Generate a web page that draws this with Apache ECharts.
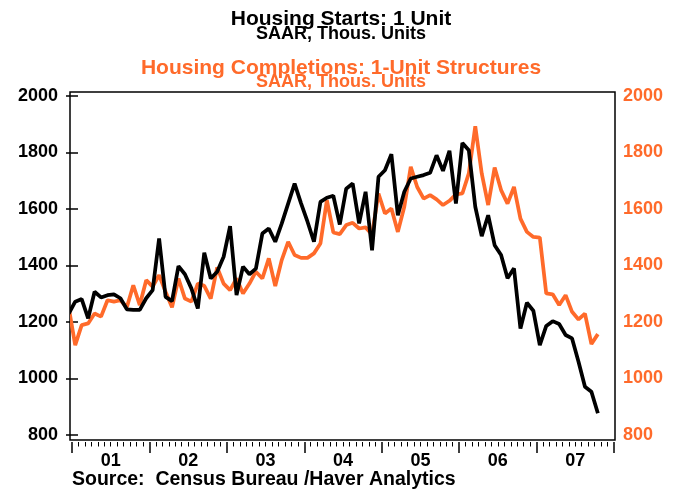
<!DOCTYPE html>
<html>
<head>
<meta charset="utf-8">
<script src="https://cdn.jsdelivr.net/npm/echarts/dist/echarts.min.js"></script>
<style>
html, body { margin: 0; padding: 0; background: #fff; }
#chart { width: 682px; height: 491px; }
</style>
</head>
<body>
<div id="chart"></div>
<script>
// months are counted from Jan 2001 (= 0); the series begin with Dec 2000
var firstMonth = -1;
var yearLabels = ['01', '02', '03', '04', '05', '06', '07'];

// Housing Starts: 1 Unit, SAAR, thous. units (Dec 2000 .. Oct 2007)
var starts = [
  1230,
  1272, 1281, 1213, 1307, 1287, 1295, 1298, 1284, 1245, 1243, 1243, 1284,
  1313, 1496, 1289, 1274, 1398, 1369, 1319, 1248, 1445, 1354, 1378, 1431,
  1539, 1295, 1396, 1369, 1389, 1513, 1531, 1484, 1548, 1619, 1690, 1620,
  1555, 1484, 1625, 1640, 1647, 1545, 1672, 1690, 1549, 1661, 1454, 1714,
  1737, 1794, 1578, 1661, 1708, 1714, 1720, 1728, 1790, 1735, 1806, 1619,
  1834, 1808, 1608, 1504, 1578, 1472, 1437, 1355, 1390, 1177, 1268, 1240,
  1118, 1186, 1203, 1193, 1154, 1142, 1059, 971, 953, 877
];

// Housing Completions: 1-Unit Structures, SAAR, thous. units (Dec 2000 .. Oct 2007)
var completions = [
  1250,
  1118, 1189, 1195, 1230, 1219, 1277, 1272, 1277, 1252, 1330, 1260, 1348,
  1325, 1366, 1307, 1252, 1354, 1283, 1272, 1336, 1328, 1283, 1393, 1336,
  1313, 1354, 1301, 1336, 1378, 1354, 1425, 1327, 1419, 1484, 1437, 1427,
  1427, 1443, 1478, 1631, 1517, 1511, 1543, 1551, 1531, 1535, 1510, 1655,
  1584, 1602, 1519, 1608, 1749, 1678, 1637, 1649, 1634, 1614, 1629, 1652,
  1655, 1726, 1893, 1726, 1614, 1747, 1667, 1619, 1678, 1566, 1519, 1501,
  1499, 1301, 1298, 1260, 1295, 1236, 1209, 1230, 1122, 1157
];

var orange = '#ff6a2a';

// plot each month at its middle
function toPoints(values) {
  return values.map(function (v, k) {
    return [firstMonth + k + 0.5, v];
  });
}

var labelFont = {
  fontFamily: 'Liberation Sans',
  fontSize: 18,
  fontWeight: 'bold'
};

function plain(v) { return String(v); }

var chart = echarts.init(document.getElementById('chart'), null, { renderer: 'canvas' });

var option = {
  backgroundColor: '#fff',
  animation: false,
  grid: [
    { left: 72, right: 68, top: 96, bottom: 56, show: false },
    // outer frame
    { left: 70, right: 67, top: 92, bottom: 51, show: true,
      borderColor: '#000', borderWidth: 1.5, backgroundColor: 'transparent' }
  ],
  xAxis: [
    {
      type: 'value', gridIndex: 0, min: 0, max: 84, interval: 12,
      position: 'bottom', offset: 7,
      axisLine: { show: false, onZero: false },
      axisTick: { show: true, length: 11, lineStyle: { color: '#000', width: 1.5 } },
      minorTick: { show: true, splitNumber: 12, length: 4.5, lineStyle: { color: '#000', width: 1 } },
      axisLabel: { show: false },
      splitLine: { show: false }
    },
    {
      type: 'value', gridIndex: 0, min: 0, max: 84, interval: 6,
      position: 'bottom', offset: 7,
      axisLine: { show: false, onZero: false },
      axisTick: { show: false },
      axisLabel: Object.assign({
        color: '#000', margin: 10,
        formatter: function (v) {
          return v % 12 === 6 ? yearLabels[(v - 6) / 12] : '';
        }
      }, labelFont),
      splitLine: { show: false }
    },
    { type: 'value', gridIndex: 1, show: false }
  ],
  yAxis: [
    {
      type: 'value', gridIndex: 0, min: 800, max: 2000, interval: 200,
      position: 'left', offset: 3,
      axisLine: { show: false },
      axisTick: { show: true, length: 6, lineStyle: { color: '#000', width: 1.5 } },
      axisLabel: Object.assign({ color: '#000', margin: 11, padding: [6, 0, 0, 0], formatter: plain }, labelFont),
      splitLine: { show: false }
    },
    {
      type: 'value', gridIndex: 0, min: 800, max: 2000, interval: 200,
      position: 'right', offset: 2,
      axisLine: { show: false },
      axisTick: { show: true, length: 6, lineStyle: { color: '#000', width: 1.5 } },
      axisLabel: Object.assign({ color: orange, margin: 7, padding: [6, 0, 0, 0], formatter: plain }, labelFont),
      splitLine: { show: false }
    },
    { type: 'value', gridIndex: 1, show: false }
  ],
  graphic: [
    { type: 'text', left: 'center', top: 8.5,
      style: { text: 'Housing Starts: 1 Unit', fill: '#000', font: 'bold 21px "Liberation Sans"' } },
    { type: 'text', left: 'center', top: 25,
      style: { text: 'SAAR, Thous. Units', fill: '#000', font: 'bold 18px "Liberation Sans"' } },
    { type: 'text', left: 'center', top: 57.5,
      style: { text: 'Housing Completions: 1-Unit Structures', fill: orange, font: 'bold 21px "Liberation Sans"' } },
    { type: 'text', left: 'center', top: 73.5,
      style: { text: 'SAAR, Thous. Units', fill: orange, font: 'bold 18px "Liberation Sans"' } },
    { type: 'text', left: 72, top: 469.5,
      style: { text: 'Source:  Census Bureau /Haver Analytics', fill: '#000',
               font: 'bold 19.5px "Liberation Sans"' } }
  ],
  series: [
    {
      name: 'Housing Completions: 1-Unit Structures',
      type: 'line', xAxisIndex: 0, yAxisIndex: 1,
      data: toPoints(completions),
      showSymbol: false, clip: true,
      lineStyle: { color: orange, width: 3.75 }
    },
    {
      name: 'Housing Starts: 1 Unit',
      type: 'line', xAxisIndex: 0, yAxisIndex: 0,
      data: toPoints(starts),
      showSymbol: false, clip: true,
      lineStyle: { color: '#000', width: 3.75 }
    }
  ]
};

chart.setOption(option);
</script>
</body>
</html>
